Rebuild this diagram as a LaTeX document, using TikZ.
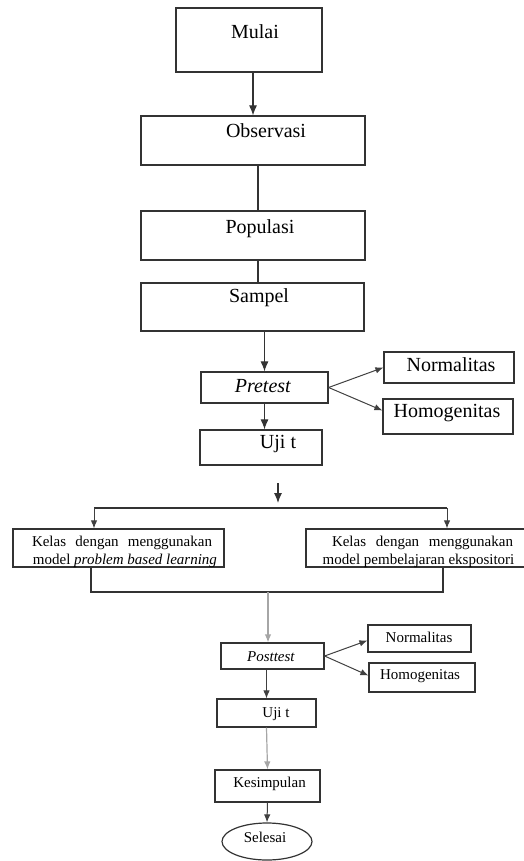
\documentclass[tikz,border=0pt]{standalone}
\usepackage{fontspec}
\setmainfont{Liberation Serif}
\usetikzlibrary{arrows.meta,shapes.geometric}
\tikzset{
  box/.style={draw=black!80,line width=1.2pt,rectangle,inner sep=0pt},
  big/.style={inner sep=0pt,anchor=base,font=\fontsize{20}{22}\selectfont},
  sml/.style={inner sep=0pt,anchor=base,font=\fontsize{15}{17}\selectfont},
  arr/.style={draw=black!80,line width=1.1pt,-{Latex[length=10pt,width=8pt]}},
  arrs/.style={draw=black!75,line width=1pt,-{Latex[length=8pt,width=6.5pt]}},
  ln/.style={draw=black!80,line width=1.1pt},
  lng/.style={draw=black!35,line width=1.2pt}
}
\begin{document}
\begin{tikzpicture}[x=1pt,y=-1pt]
\useasboundingbox (0,0) rectangle (523,861);
% upper part
\node[box,minimum width=146,minimum height=64] (mulai) at (249,40) {};
\node[box,minimum width=224,minimum height=49] (obs) at (253,140.5) {};
\node[box,minimum width=224,minimum height=49] (pop) at (253,235.5) {};
\node[box,minimum width=223,minimum height=48] (samp) at (252.5,307) {};
\node[box,minimum width=127,minimum height=31] (pre) at (264.5,387.5) {};
\node[box,minimum width=130,minimum height=31] (norm1) at (449,367.5) {};
\node[box,minimum width=130,minimum height=35] (homo1) at (448,416.5) {};
\node[box,minimum width=122,minimum height=35] (uji1) at (261,447.5) {};
\node[big] (mulai-t) at (255,39) {Mulai};
\node[big] (obs-t) at (266,138) {Observasi};
\node[big] (pop-t) at (260,233) {Populasi};
\node[big] (samp-t) at (259,302) {Sampel};
\node[big] (pre-t) at (263,392) {\textit{Pretest}};
\node[big] (norm1-t) at (451,371) {Normalitas};
\node[big] (homo1-t) at (447,417) {Homogenitas};
\node[big] (uji1-t) at (278,448) {Uji t};
\draw[arr] ([xshift=4]mulai.south) -- ([xshift=4]mulai.south |- obs.north);
\draw[ln] ([xshift=5]obs.south) -- ([xshift=5]obs.south |- pop.north);
\draw[ln] ([xshift=5]pop.south) -- ([xshift=5]pop.south |- samp.north);
\draw[arr] ([xshift=12]samp.south) -- ([xshift=12]samp.south |- pre.north);
\draw[arrs] (pre.east) -- (norm1.west);
\draw[arrs] (pre.east) -- ([yshift=6]homo1.west);
\draw[arr] (pre.south) -- (pre.south |- uji1.north);
% split into two classes
\coordinate (s1) at (278,483);
\coordinate (s2) at (278,503);
\draw[arr] (s1) -- (s2);
\node[box,minimum width=211,minimum height=38] (kelA) at (118.5,548) {};
\node[box,minimum width=224,minimum height=38] (kelB) at (418,548) {};
\node[sml] (kelA-t1) at (122,546) {\makebox[180pt][s]{Kelas dengan menggunakan}};
\node[sml] (kelA-t2) at (125,564) {model \textit{problem based learning}};
\node[sml] (kelB-t1) at (422.5,546) {\makebox[181pt][s]{Kelas dengan menggunakan}};
\node[sml] (kelB-t2) at (418.5,564) {model pembelajaran ekspositori};
\coordinate (sl) at (94,508);
\coordinate (sr) at (447,508);
\draw[ln] (sl) -- (sr);
\draw[arrs] (sl) -- (sl |- kelA.north);
\draw[arrs] (sr) -- (sr |- kelB.north);
\coordinate (ml) at (91,592);
\coordinate (mr) at (443,592);
\coordinate (mc) at (268,592);
\draw[ln] (ml |- kelA.south) -- (ml) -- (mr) -- (mr |- kelB.south);
% lower part
\node[box,minimum width=103,minimum height=26] (post) at (272.5,656) {};
\node[box,minimum width=103,minimum height=27] (norm2) at (419.5,638.5) {};
\node[box,minimum width=106,minimum height=29] (homo2) at (422,677.5) {};
\node[box,minimum width=99,minimum height=28] (uji2) at (266.5,713) {};
\node[box,minimum width=105,minimum height=32] (kes) at (267.5,786) {};
\node[box,ellipse,minimum width=90,minimum height=37] (sel) at (267,841.5) {};
\node[sml] (post-t) at (271,661) {\textit{Posttest}};
\node[sml] (norm2-t) at (419,642) {Normalitas};
\node[sml] (homo2-t) at (420,679) {Homogenitas};
\node[sml] (uji2-t) at (276,717) {Uji t};
\node[sml] (kes-t) at (269.5,787) {Kesimpulan};
\node[sml] (sel-t) at (265,842) {Selesai};
\draw[lng,-{Latex[length=8pt,width=6.5pt]}] (mc) -- (mc |- post.north);
\draw[arrs] (post.east) -- ([yshift=-2]norm2.west);
\draw[arrs] (post.east) -- ([yshift=2]homo2.west);
\draw[arrs] (post.south -| uji2.south) -- (uji2.north);
\draw[lng,-{Latex[length=8pt,width=6.5pt]}] (uji2.south) -- (kes.north);
\draw[arrs] (kes.south) -- (sel.north);
\end{tikzpicture}
\end{document}
